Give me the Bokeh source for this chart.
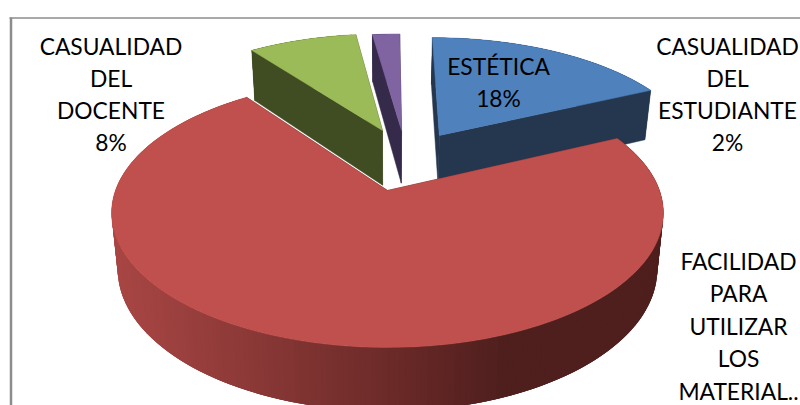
import math

from bokeh.core.properties import value
from bokeh.embed import file_html
from bokeh.models import Range1d
from bokeh.plotting import figure
from bokeh.resources import INLINE

# Survey shares, clockwise from twelve o'clock
categories = ["ESTÉTICA", "FACILIDAD PARA UTILIZAR LOS MATERIAL..",
              "CASUALIDAD DEL DOCENTE", "CASUALIDAD DEL ESTUDIANTE"]
shares = [18, 72, 8, 2]
percent_labels = ["18%", None, "8%", "2%"]

# Slice offsets in the plane of the pie (pulled-out wedges)
offset_x = [0.205, 0.0, -0.02, 0.056]
offset_y = [0.453, 0.0, 0.497, 0.497]
# Extra drop of each slice's lower rim, in pixels
base_drop = [0, 0, 3, 1]

top_colors = ["#4f81bd", "#c0504d", "#9bbb59", "#8064a2"]
face_colors = ["#24374f", "#4f1f1e", "#404c22", "#352a4a"]

# Perspective camera: the top and bottom rims of the disc
CX, PERSP = 387.0, 0.167
TOP = dict(a=272.0, b=130.7, cy=190.0)
BASE = dict(a=266.0, b=138.0, cy=245.0)


def project(x, y, rim):
    w = 1 + PERSP * y
    return CX + rim["a"] * x / w, rim["cy"] - rim["b"] * y / w


def rim_point(angle, i, rim):
    return project(math.sin(angle) + offset_x[i], math.cos(angle) + offset_y[i], rim)


def lerp_hex(c0, c1, t):
    a = [int(c0[k:k + 2], 16) for k in (1, 3, 5)]
    b = [int(c1[k:k + 2], 16) for k in (1, 3, 5)]
    return "#%02x%02x%02x" % tuple(round(p + (q - p) * t) for p, q in zip(a, b))


def wall_color(px):
    # Side of the large slice darkens from left to right
    if px < 400:
        return lerp_hex("#a84644", "#662826", max(0.0, (px - 115) / 285))
    return lerp_hex("#662826", "#4f1f1e", min(1.0, (px - 400) / 90))


p = figure(width=800, height=405, output_backend="svg", toolbar_location=None,
           x_range=Range1d(0, 800), y_range=Range1d(405, 0),
           min_border=0, outline_line_color=None, background_fill_color="white")
p.axis.visible = False
p.grid.visible = False

# Slice boundaries in radians
bounds = [0.0]
for s in shares:
    bounds.append(bounds[-1] + s / sum(shares) * 2 * math.pi)


def draw_slice(i):
    a0, a1 = bounds[i], bounds[i + 1]
    steps = max(4, int(math.degrees(a1 - a0)))
    angles = [a0 + (a1 - a0) * k / steps for k in range(steps + 1)]
    top = [rim_point(a, i, TOP) for a in angles]
    base = [rim_point(a, i, BASE) for a in angles]
    base = [(c[0], c[1] + base_drop[i]) for c in base]

    # Outer wall: each quad overlaps the previous ones so no seams show
    xs, ys, cols = [], [], []
    for k in range(steps):
        start = max(0, k - 2)
        q = [top[start], top[k + 1], base[k + 1], base[start]]
        xs.append([c[0] for c in q])
        ys.append([c[1] for c in q])
        mid = [top[k], top[k + 1], base[k + 1], base[k]]
        mean_x = sum(c[0] for c in mid) / 4
        cols.append(wall_color(mean_x) if i == 1 else face_colors[i])
    p.patches(xs, ys, fill_color=cols, line_color=None)

    # Cut faces running from the apex out to each end of the arc
    at = project(offset_x[i], offset_y[i], TOP)
    ab = project(offset_x[i], offset_y[i], BASE)
    ab = (ab[0], ab[1] + base_drop[i])
    for end_t, end_b in ((top[0], base[0]), (top[-1], base[-1])):
        q = [at, end_t, end_b, ab]
        p.patch([c[0] for c in q], [c[1] for c in q], fill_color=face_colors[i],
                line_color=face_colors[i], line_width=0.5)

    # Top surface
    q = [at] + top
    p.patch([c[0] for c in q], [c[1] for c in q], fill_color=top_colors[i],
            line_color=top_colors[i], line_width=0.5)


for i in (3, 2, 0, 1):
    draw_slice(i)

# Chart frame: only the top and left edges fall inside the page
p.line([10.5, 10.5], [405, 17], line_color="#8c8c8c", line_width=2.5)
p.line([9, 800], [17.5, 17.5], line_color="#8c8c8c", line_width=1.5)

# Data labels, one row of text per line
label_rows = [
    (498, [(65.5, "ESTÉTICA"), (97, percent_labels[0])]),
    (110.5, [(45, "CASUALIDAD"), (77, "DEL"), (109, "DOCENTE"), (141, percent_labels[2])]),
    (727, [(45, "CASUALIDAD"), (77, "DEL"), (109, "ESTUDIANTE"), (141, percent_labels[3])]),
    (738, [(260, "FACILIDAD"), (292, "PARA"), (325, "UTILIZAR"), (357, "LOS"), (390, "MATERIAL..")]),
]
for cx, rows in label_rows:
    p.text([cx] * len(rows), [r[0] for r in rows], text=[r[1] for r in rows],
           text_align="center", text_baseline="middle", text_color="black",
           text_font=value("Lato"), text_font_size="22.8px")

open("out.html", "w").write(file_html(p, INLINE))
